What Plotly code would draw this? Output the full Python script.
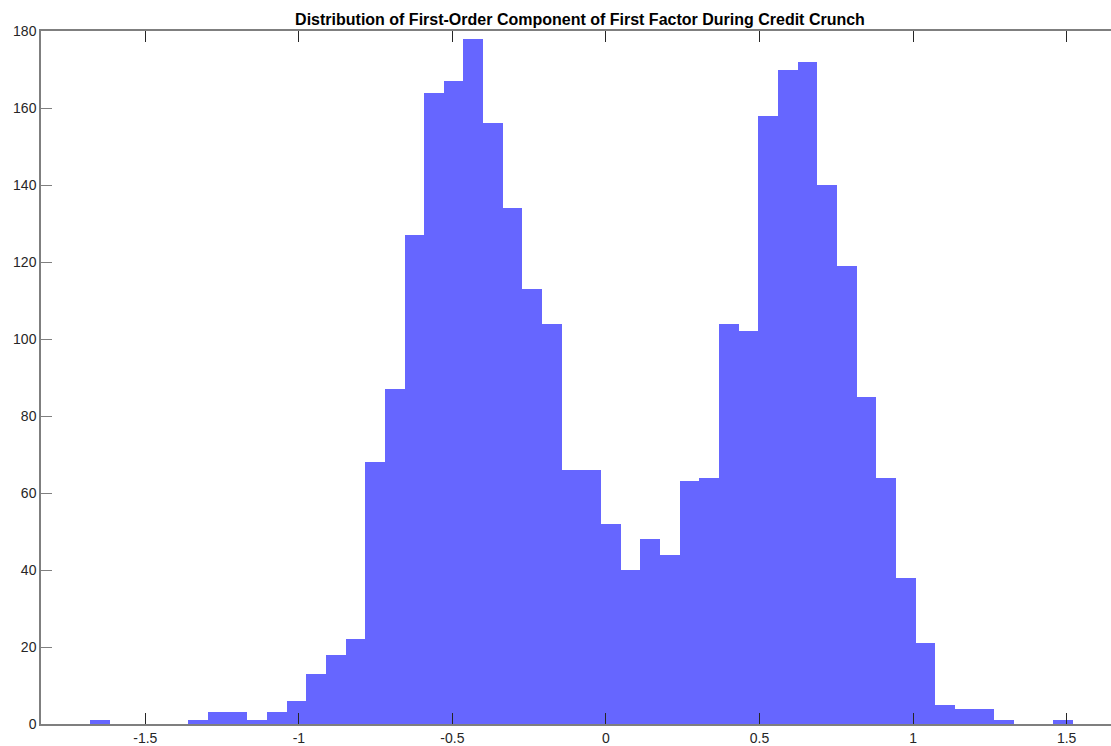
import plotly.graph_objects as go

# Histogram data (50 equal-width bins)
bin_min = -1.680
bin_max = 1.520
counts = [1, 0, 0, 0, 0, 1, 3, 3, 1, 3,
          6, 13, 18, 22, 68, 87, 127, 164, 167, 178,
          156, 134, 113, 104, 66, 66, 52, 40, 48, 44,
          63, 64, 104, 102, 158, 170, 172, 140, 119, 85,
          64, 38, 21, 5, 4, 4, 1, 0, 0, 1]
x_tick_vals = [-1.5, -1, -0.5, 0, 0.5, 1, 1.5]
x_tick_text = ["-1.5", "-1", "-0.5", "0", "0.5", "1", "1.5"]
y_tick_vals = [0, 20, 40, 60, 80, 100, 120, 140, 160, 180]
title_text = "Distribution of First-Order Component of First Factor During Credit Crunch"

n = len(counts)
bw = (bin_max - bin_min) / n
centers = [bin_min + bw * (i + 0.5) for i in range(n)]

fig = go.Figure()
fig.add_trace(go.Bar(
    x=centers, y=counts, width=[bw] * n,
    marker=dict(color="#6666ff", line=dict(width=0)),
    hoverinfo="x+y",
))

font_family = "Liberation Sans, Arial, Helvetica, sans-serif"

fig.update_layout(
    width=1111, height=746,
    margin=dict(l=41, r=0, t=31, b=22),
    paper_bgcolor="white", plot_bgcolor="white",
    bargap=0, showlegend=False,
    font=dict(family=font_family, size=14, color="#262626"),
    title=dict(
        text=title_text, x=580 / 1111, xanchor="center",
        y=1 - 19 / 746, yanchor="middle", xref="container", yref="container",
        font=dict(family=font_family, size=16, color="black", weight=700),
    ),
)
fig.update_xaxes(
    range=[-1.8396, 1.6443], tickmode="array", tickvals=x_tick_vals, ticktext=x_tick_text,
    ticks="inside", ticklen=11, tickwidth=1, tickcolor="#262626",
    showline=True, linecolor="#7f7f7f", linewidth=1.5, mirror="ticks",
    showgrid=False, zeroline=False, tickfont=dict(size=14, color="#262626"),
)
fig.update_yaxes(
    range=[0, 180], tickmode="array", tickvals=y_tick_vals,
    ticks="inside", ticklen=11, tickwidth=1, tickcolor="#7f7f7f",
    showline=True, linecolor="#7f7f7f", linewidth=1.5, mirror=False,
    showgrid=False, zeroline=False, tickfont=dict(size=14, color="#262626"),
)

fig.write_html("out.html")
